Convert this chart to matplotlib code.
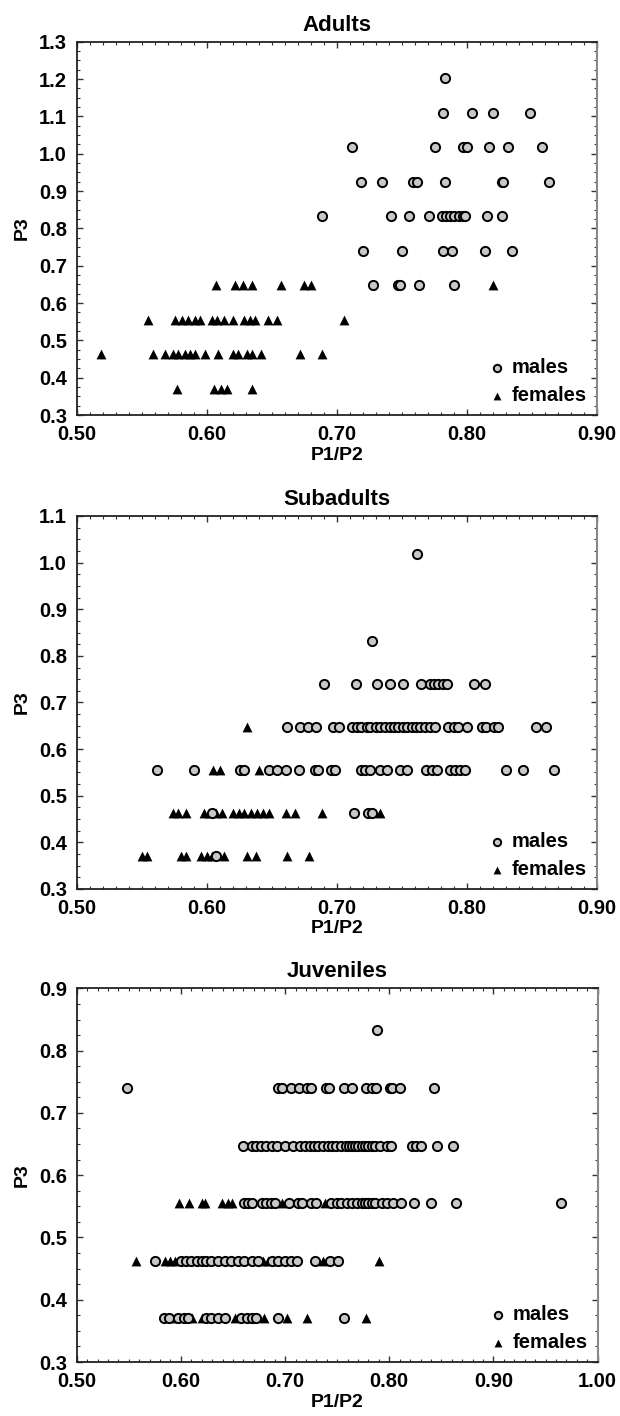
import matplotlib
matplotlib.use("Agg")
import matplotlib.pyplot as plt
from matplotlib.ticker import MultipleLocator, FormatStrFormatter

plt.rcParams['font.family'] = ['Liberation Sans', 'DejaVu Sans']
plt.rcParams['font.weight'] = 'bold'

# each series: P3 level -> list of P1/P2 values

adult_males = {
    1.2025: [0.783],
    1.11: [0.782, 0.804, 0.820, 0.849],
    1.0175: [0.712, 0.776, 0.797, 0.800, 0.817, 0.832, 0.858],
    0.925: [0.719, 0.735, 0.759, 0.762, 0.783, 0.827, 0.828, 0.863],
    0.8325: [0.689, 0.742, 0.756, 0.771, 0.781, 0.784, 0.787, 0.790, 0.794,
             0.797, 0.799, 0.816, 0.827],
    0.74: [0.720, 0.750, 0.782, 0.789, 0.814, 0.835],
    0.6475: [0.728, 0.747, 0.749, 0.763, 0.790],
}
adult_females = {
    0.6475: [0.607, 0.622, 0.628, 0.635, 0.657, 0.675, 0.680, 0.820],
    0.555: [0.555, 0.576, 0.581, 0.586, 0.591, 0.595, 0.604, 0.608, 0.613,
            0.620, 0.629, 0.633, 0.637, 0.647, 0.654, 0.706],
    0.4625: [0.519, 0.559, 0.568, 0.574, 0.578, 0.583, 0.587, 0.591, 0.599,
             0.609, 0.620, 0.624, 0.631, 0.635, 0.642, 0.672, 0.689],
    0.37: [0.577, 0.606, 0.611, 0.616, 0.635],
}

subadult_males = {
    1.0175: [0.762],
    0.8325: [0.727],
    0.74: [0.690, 0.715, 0.731, 0.741, 0.751, 0.765, 0.772, 0.775, 0.778,
           0.782, 0.785, 0.806, 0.814],
    0.6475: [0.662, 0.672, 0.678, 0.684, 0.697, 0.702, 0.712, 0.716, 0.719,
             0.723, 0.726, 0.730, 0.733, 0.737, 0.741, 0.744, 0.747, 0.751,
             0.754, 0.758, 0.761, 0.764, 0.768, 0.772, 0.776, 0.786, 0.790,
             0.793, 0.800, 0.812, 0.815, 0.821, 0.824, 0.853, 0.861],
    0.555: [0.562, 0.590, 0.626, 0.629, 0.648, 0.654, 0.661, 0.671, 0.683,
            0.686, 0.696, 0.699, 0.719, 0.722, 0.726, 0.733, 0.739, 0.749,
            0.754, 0.769, 0.773, 0.777, 0.787, 0.791, 0.795, 0.799, 0.830,
            0.843, 0.867],
    0.4625: [0.604, 0.713, 0.724, 0.727],
    0.37: [0.607],
}
subadult_females = {
    0.6475: [0.631],
    0.555: [0.605, 0.610, 0.640],
    0.4625: [0.574, 0.578, 0.584, 0.598, 0.602, 0.607, 0.612, 0.620, 0.625,
             0.629, 0.634, 0.639, 0.643, 0.648, 0.661, 0.668, 0.689, 0.733],
    0.37: [0.550, 0.554, 0.580, 0.584, 0.596, 0.600, 0.604, 0.613, 0.631,
           0.638, 0.662, 0.679],
}

juvenile_males = {
    0.8325: [0.788],
    0.74: [0.548, 0.693, 0.697, 0.706, 0.713, 0.721, 0.725, 0.739, 0.742,
           0.757, 0.764, 0.778, 0.783, 0.787, 0.801, 0.803, 0.810, 0.843],
    0.6475: [0.660, 0.668, 0.672, 0.677, 0.682, 0.687, 0.692, 0.700, 0.708,
             0.714, 0.719, 0.724, 0.728, 0.732, 0.736, 0.741, 0.745, 0.749,
             0.754, 0.758, 0.761, 0.764, 0.767, 0.770, 0.774, 0.777, 0.780,
             0.783, 0.786, 0.791, 0.798, 0.802, 0.822, 0.826, 0.830, 0.846,
             0.861],
    0.555: [0.661, 0.664, 0.668, 0.678, 0.682, 0.686, 0.690, 0.704, 0.712,
            0.716, 0.725, 0.730, 0.744, 0.750, 0.754, 0.759, 0.764, 0.769,
            0.774, 0.777, 0.780, 0.783, 0.786, 0.793, 0.798, 0.804, 0.811,
            0.824, 0.840, 0.864, 0.965],
    0.4625: [0.575, 0.600, 0.605, 0.610, 0.615, 0.620, 0.624, 0.629, 0.636,
             0.642, 0.648, 0.655, 0.661, 0.668, 0.674, 0.687, 0.693, 0.700,
             0.706, 0.711, 0.729, 0.743, 0.751],
    0.37: [0.584, 0.589, 0.597, 0.603, 0.607, 0.624, 0.629, 0.636, 0.642,
           0.658, 0.663, 0.668, 0.672, 0.693, 0.757],
}
juvenile_females = {
    0.555: [0.598, 0.608, 0.620, 0.623, 0.639, 0.645, 0.649, 0.697, 0.738],
    0.4625: [0.557, 0.585, 0.590, 0.594, 0.679, 0.684, 0.692, 0.736, 0.790],
    0.37: [0.594, 0.611, 0.620, 0.652, 0.669, 0.680, 0.702, 0.721, 0.778],
}

panels = [
    ("Adults", adult_males, adult_females, (0.5, 0.9), (0.3, 1.3),
     [0.1237, 0.7069, 0.8387, 0.2636]),
    ("Subadults", subadult_males, subadult_females, (0.5, 0.9), (0.3, 1.1),
     [0.1237, 0.3722, 0.8387, 0.2634]),
    ("Juveniles", juvenile_males, juvenile_females, (0.5, 1.0), (0.3, 0.9),
     [0.1237, 0.0381, 0.8403, 0.2639]),
]


def flatten(series):
    xs, ys = [], []
    for level, vals in series.items():
        xs += vals
        ys += [level] * len(vals)
    return xs, ys


fig = plt.figure(figsize=(6.2, 14.16), dpi=100)

for title, males, females, xlim, ylim, rect in panels:
    ax = fig.add_axes(rect)
    fx, fy = flatten(females)
    mx, my = flatten(males)
    hf = ax.scatter(fx, fy, marker='^', s=50, color='black', linewidths=0,
                    zorder=3)
    hm = ax.scatter(mx, my, marker='o', s=44, facecolor='#c8c8c8',
                    edgecolor='black', linewidths=1.4, zorder=4)
    ax.set_xlim(*xlim)
    ax.set_ylim(*ylim)
    ax.xaxis.set_major_locator(MultipleLocator(0.1))
    ax.xaxis.set_minor_locator(MultipleLocator(0.01))
    ax.yaxis.set_major_locator(MultipleLocator(0.1))
    ax.yaxis.set_minor_locator(MultipleLocator(0.025))
    ax.xaxis.set_major_formatter(FormatStrFormatter('%.2f'))
    ax.yaxis.set_major_formatter(FormatStrFormatter('%.1f'))
    ax.tick_params(which='both', direction='in', top=True, right=True,
                   color='#333333', labelsize=14.5)
    ax.tick_params(which='major', length=4, width=1, pad=7)
    ax.tick_params(which='minor', length=2.5, width=0.8)
    for side in ['left', 'top', 'bottom']:
        ax.spines[side].set_color('#222222')
        ax.spines[side].set_linewidth(1.3)
    ax.spines['right'].set_color('#888888')
    ax.spines['right'].set_linewidth(1.5)
    ax.set_title(title, fontsize=16, fontweight='bold', pad=8)
    ax.set_xlabel('P1/P2', fontsize=14, fontweight='bold', labelpad=2)
    ax.set_ylabel('P3', fontsize=14, fontweight='bold', labelpad=6)
    ax.legend([hm, hf], ['males', 'females'], loc='lower right',
              frameon=False, fontsize=14.5, markerscale=0.8,
              handlelength=0.6, handletextpad=0.4, labelspacing=0.45,
              borderaxespad=0.1)

fig.savefig('out.png', dpi=100)
